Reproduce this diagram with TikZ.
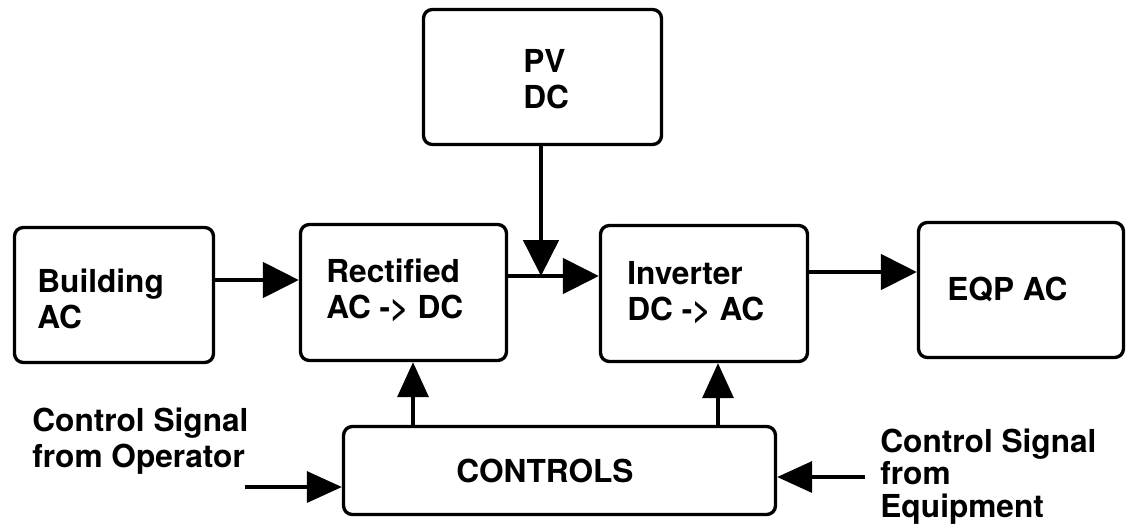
\documentclass[tikz,border=0pt]{standalone}
\usepackage{fontspec}
\setmainfont{TeX Gyre Heros}
\usetikzlibrary{arrows.meta}

\begin{document}
\begin{tikzpicture}[x=0.02cm,y=-0.02cm,every node/.style={font=\fontsize{18}{20}\selectfont\bfseries},
  blk/.style={draw,line width=1.9pt,rounded corners=5pt,inner sep=0pt},
  lbl/.style={anchor=base west,align=left,inner sep=0pt},
  flow/.style={line width=2.8pt,-{Triangle[length=0.72cm,width=0.7cm]}},
  ctrl/.style={line width=1.9pt,-{Triangle[length=0.7cm,width=0.62cm]}}]
\useasboundingbox (0,0) rectangle (1128,529);
\node[blk,minimum width=4.76cm,minimum height=2.70cm] (pv) at (542.5,77) {};
\node[blk,minimum width=3.98cm,minimum height=2.70cm] (bld) at (114,295) {};
\node[blk,minimum width=4.12cm,minimum height=2.72cm] (rect) at (403.5,292.5) {};
\node[blk,minimum width=4.14cm,minimum height=2.72cm] (inv) at (704,293.5) {};
\node[blk,minimum width=4.10cm,minimum height=2.70cm] (eqp) at (1021,290) {};
\node[blk,minimum width=8.64cm,minimum height=1.76cm] (ctl) at (559.5,470.5) {};
% texts, placed by the baseline of their last line
\node[lbl] (pvtxt) at (523,108) {PV\\DC};
\node[lbl] (bldtxt) at (37,328) {Building\\AC};
\node[lbl] (recttxt) at (326,318) {Rectified\\AC -> DC};
\node[lbl] (invtxt) at (627,320) {Inverter\\DC -> AC};
\node[lbl] (eqptxt) at (947,300) {EQP AC};
\node[lbl] (ctltxt) at (456,482) {CONTROLS};
\node[lbl] (oprtxt) at (32,467) {Control Signal\\from Operator};
\node[lbl,font=\fontsize{18}{18.5}\selectfont\bfseries] (eqstxt) at (880,517) {Control Signal\\from\\Equipment};
% power path
\coordinate (jn) at (541,276);
\draw[flow] (bld.east |- 0,280) -- (rect.west |- 0,280);
\draw[flow] (rect.east |- jn) -- (inv.west |- jn);
\draw[flow] (pv.south -| jn) -- (jn);
\draw[flow] (inv.east |- 0,272) -- (eqp.west |- 0,272);
% control signals
\coordinate (opr) at (245,487); \coordinate (eqs) at (865,477);
\draw[ctrl] (ctl.north -| 413,0) -- (rect.south -| 413,0);
\draw[ctrl] (ctl.north -| 718,0) -- (inv.south -| 718,0);
\draw[ctrl] (opr) -- (ctl.west |- opr);
\draw[ctrl] (eqs) -- (ctl.east |- eqs);
\end{tikzpicture}
\end{document}
